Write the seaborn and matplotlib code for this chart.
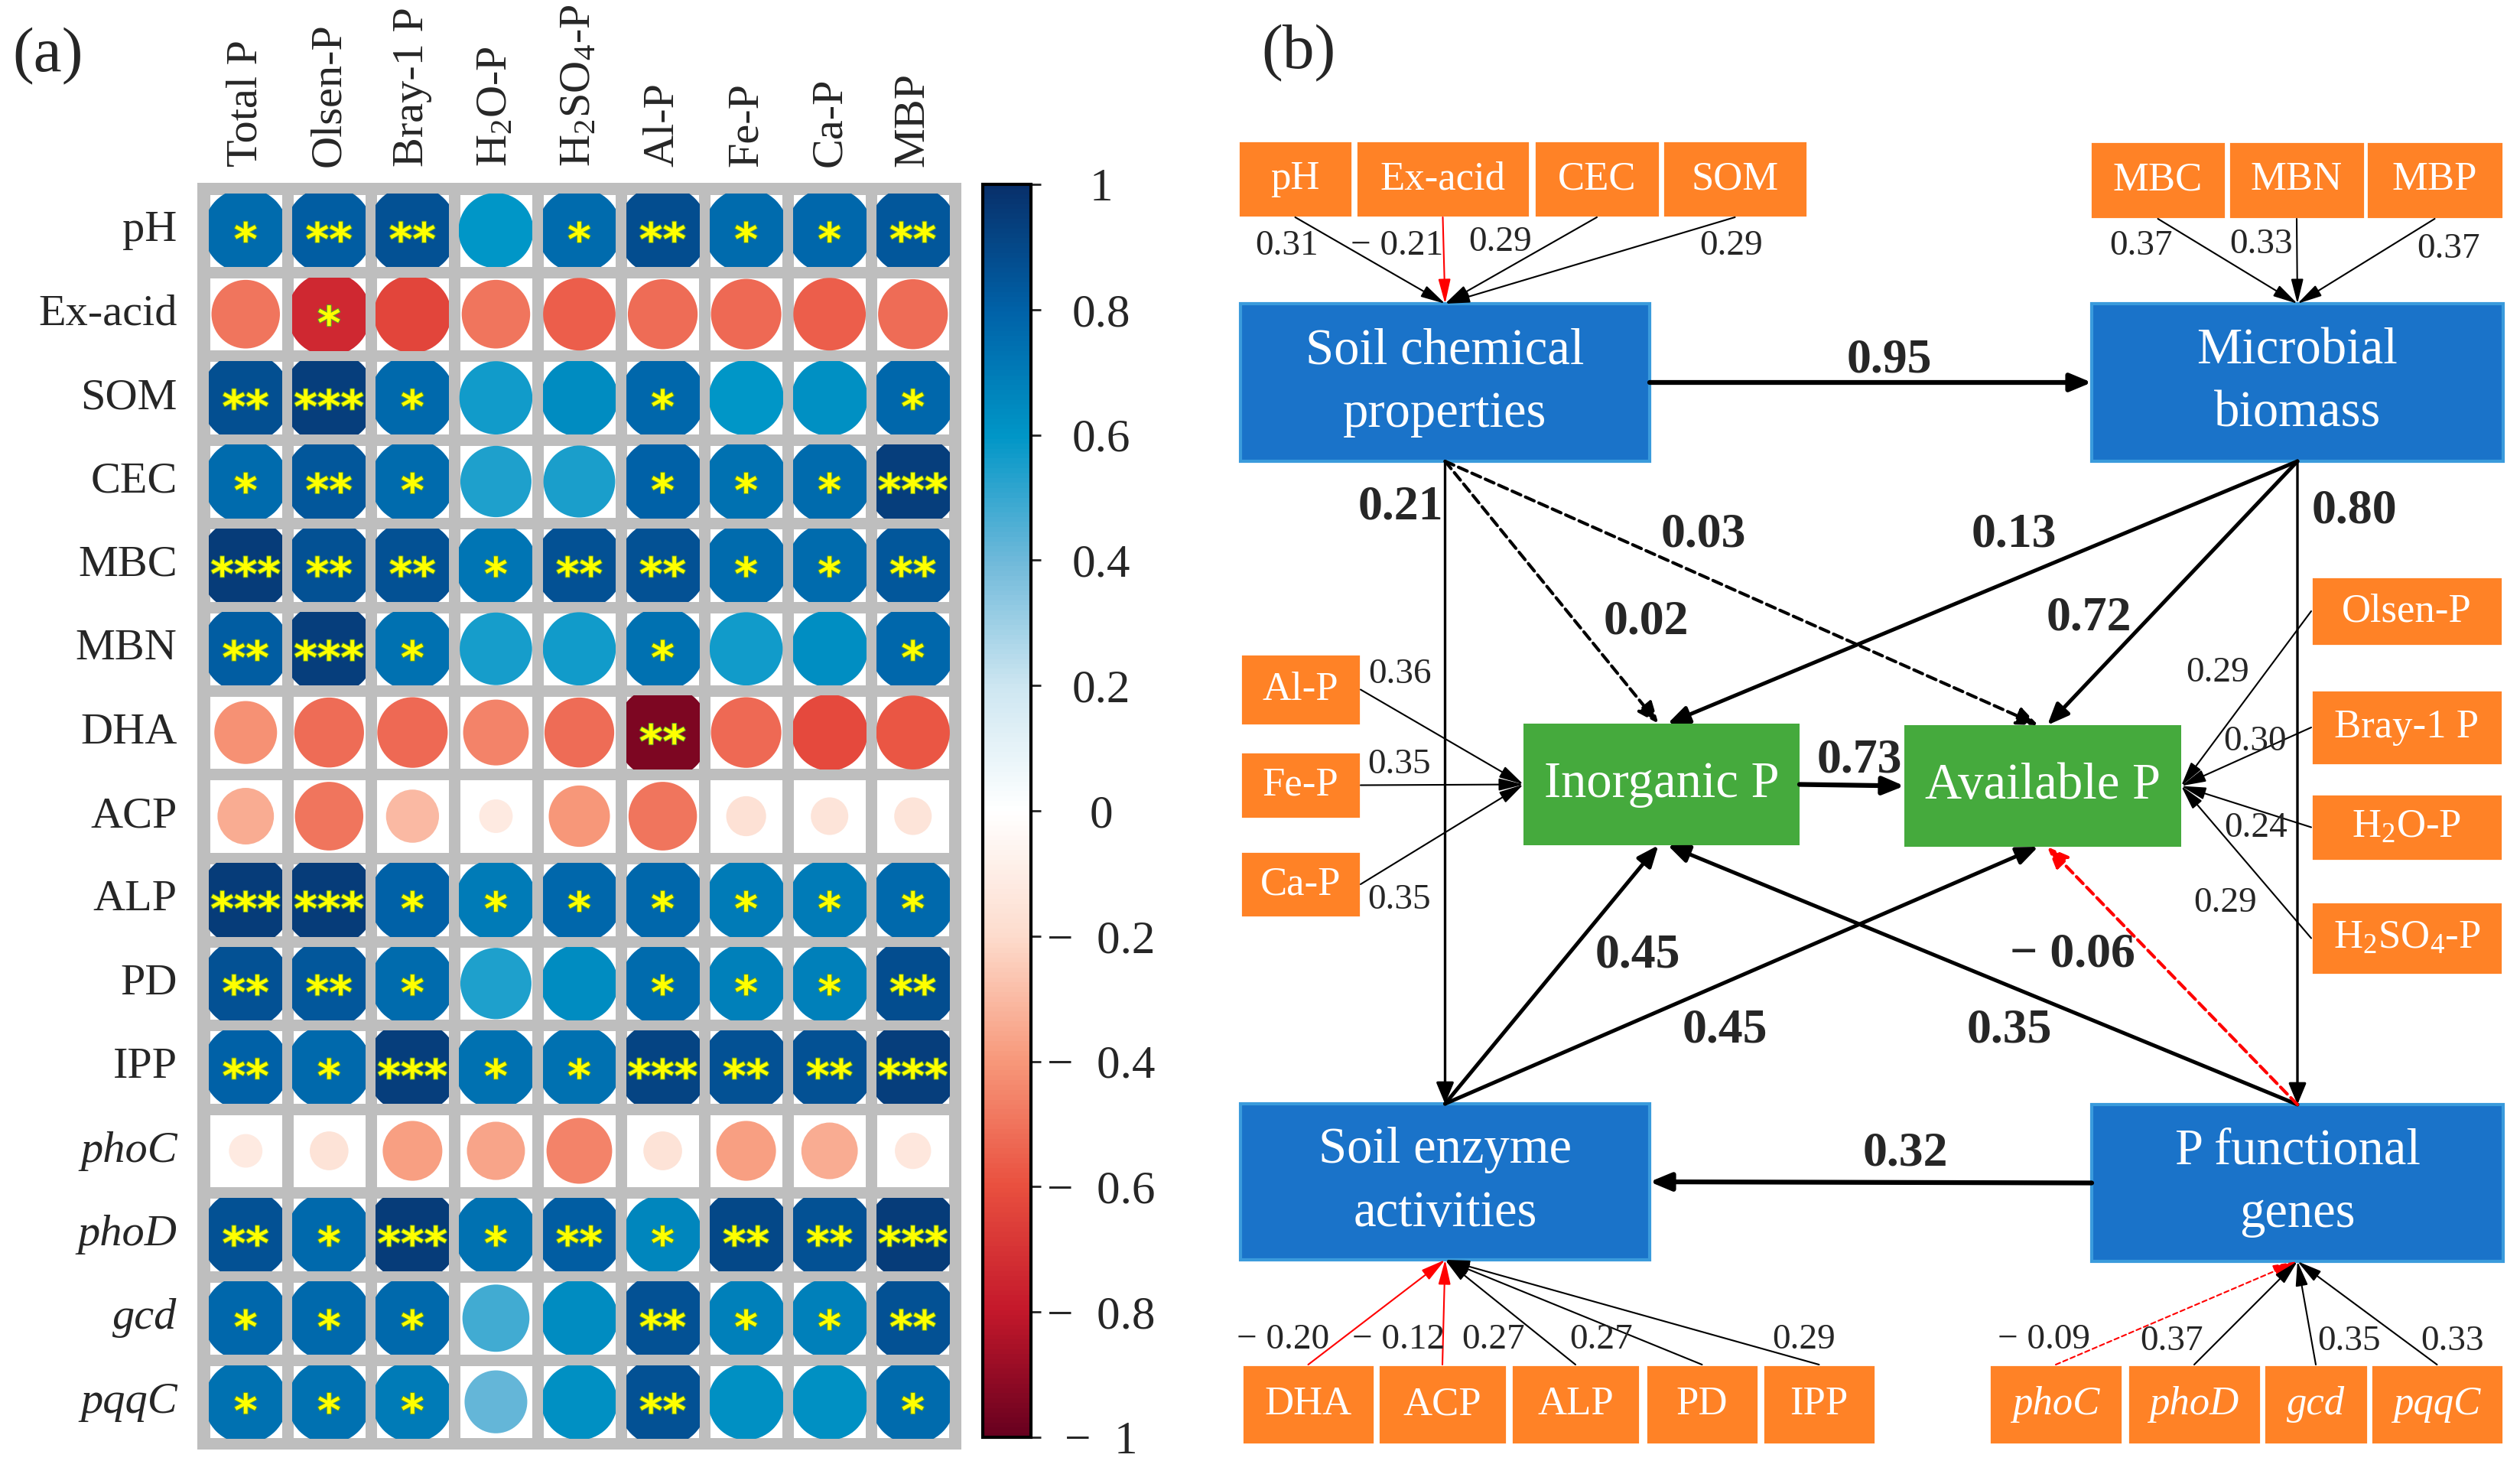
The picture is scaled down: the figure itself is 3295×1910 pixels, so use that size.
import numpy as np
import pandas as pd
import matplotlib
matplotlib.use("Agg")
import matplotlib.pyplot as plt
import seaborn as sns
from matplotlib.colors import LinearSegmentedColormap, ListedColormap, Normalize
from matplotlib.cm import ScalarMappable
from matplotlib.patches import Circle, Rectangle, FancyArrowPatch
import matplotlib.patheffects as pe

# ---- panel (a) data: correlation matrix + significance stars ----
row_names = ['pH', 'Ex-acid', 'SOM', 'CEC', 'MBC', 'MBN', 'DHA', 'ACP', 'ALP', 'PD',
             'IPP', 'phoC', 'phoD', 'gcd', 'pqqC']
col_names = ['Total P', 'Olsen-P', 'Bray-1 P', 'H$_2$O-P', 'H$_2$SO$_4$-P', 'Al-P',
             'Fe-P', 'Ca-P', 'MBP']
italic_rows = ['phoC', 'phoD', 'gcd', 'pqqC']

corr_pH = [0.76, 0.82, 0.86, 0.60, 0.76, 0.88, 0.76, 0.78, 0.84]
corr_exacid = [-0.50, -0.74, -0.64, -0.50, -0.56, -0.52, -0.53, -0.56, -0.52]
corr_SOM = [0.87, 0.94, 0.77, 0.57, 0.64, 0.78, 0.60, 0.62, 0.78]
corr_CEC = [0.76, 0.84, 0.76, 0.54, 0.55, 0.80, 0.74, 0.76, 0.94]
corr_MBC = [0.95, 0.86, 0.86, 0.72, 0.86, 0.86, 0.76, 0.76, 0.84]
corr_MBN = [0.82, 0.94, 0.74, 0.56, 0.57, 0.74, 0.57, 0.63, 0.78]
corr_DHA = [-0.42, -0.52, -0.53, -0.46, -0.52, -0.95, -0.53, -0.62, -0.58]
corr_ACP = [-0.34, -0.50, -0.30, -0.12, -0.40, -0.50, -0.17, -0.15, -0.15]
corr_ALP = [0.95, 0.95, 0.80, 0.70, 0.78, 0.78, 0.70, 0.70, 0.77]
corr_PD = [0.86, 0.84, 0.76, 0.54, 0.64, 0.76, 0.68, 0.68, 0.88]
corr_IPP = [0.80, 0.77, 0.94, 0.74, 0.74, 0.92, 0.86, 0.86, 0.94]
corr_phoC = [-0.12, -0.16, -0.38, -0.36, -0.46, -0.16, -0.38, -0.34, -0.14]
corr_phoD = [0.86, 0.77, 0.95, 0.74, 0.82, 0.66, 0.90, 0.86, 0.95]
corr_gcd = [0.78, 0.77, 0.77, 0.48, 0.64, 0.86, 0.68, 0.68, 0.86]
corr_pqqC = [0.74, 0.74, 0.70, 0.42, 0.62, 0.86, 0.62, 0.62, 0.76]

sig_pH = ['*', '**', '**', '', '*', '**', '*', '*', '**']
sig_exacid = ['', '*', '', '', '', '', '', '', '']
sig_SOM = ['**', '***', '*', '', '', '*', '', '', '*']
sig_CEC = ['*', '**', '*', '', '', '*', '*', '*', '***']
sig_MBC = ['***', '**', '**', '*', '**', '**', '*', '*', '**']
sig_MBN = ['**', '***', '*', '', '', '*', '', '', '*']
sig_DHA = ['', '', '', '', '', '**', '', '', '']
sig_ACP = ['', '', '', '', '', '', '', '', '']
sig_ALP = ['***', '***', '*', '*', '*', '*', '*', '*', '*']
sig_PD = ['**', '**', '*', '', '', '*', '*', '*', '**']
sig_IPP = ['**', '*', '***', '*', '*', '***', '**', '**', '***']
sig_phoC = ['', '', '', '', '', '', '', '', '']
sig_phoD = ['**', '*', '***', '*', '**', '*', '**', '**', '***']
sig_gcd = ['*', '*', '*', '', '', '**', '*', '*', '**']
sig_pqqC = ['*', '*', '*', '', '', '**', '', '', '*']

corr = pd.DataFrame([corr_pH, corr_exacid, corr_SOM, corr_CEC, corr_MBC, corr_MBN, corr_DHA,
                     corr_ACP, corr_ALP, corr_PD, corr_IPP, corr_phoC, corr_phoD, corr_gcd,
                     corr_pqqC], index=row_names, columns=col_names)
sig = [sig_pH, sig_exacid, sig_SOM, sig_CEC, sig_MBC, sig_MBN, sig_DHA, sig_ACP, sig_ALP,
       sig_PD, sig_IPP, sig_phoC, sig_phoD, sig_gcd, sig_pqqC]

# ---- panel (b) data: path model ----
chem_items = ['pH', 'Ex-acid', 'CEC', 'SOM']
chem_loads = [0.31, -0.21, 0.29, 0.29]
mic_items = ['MBC', 'MBN', 'MBP']
mic_loads = [0.37, 0.33, 0.37]
inorg_items = ['Al-P', 'Fe-P', 'Ca-P']
inorg_loads = [0.36, 0.35, 0.35]
avail_items = ['Olsen-P', 'Bray-1 P', 'H$_2$O-P', 'H$_2$SO$_4$-P']
avail_loads = [0.29, 0.30, 0.24, 0.29]
enz_items = ['DHA', 'ACP', 'ALP', 'PD', 'IPP']
enz_loads = [-0.20, -0.12, 0.27, 0.27, 0.29]
gene_items = ['phoC', 'phoD', 'gcd', 'pqqC']
gene_loads = [-0.09, 0.37, 0.35, 0.33]
gene_dashed = [True, False, False, False]

# (source, target, coefficient, significant)
paths = [('chem', 'mic', 0.95, True), ('chem', 'enz', 0.21, True), ('mic', 'gene', 0.80, True),
         ('chem', 'inorg', 0.02, False), ('chem', 'avail', 0.03, False),
         ('mic', 'inorg', 0.13, True), ('mic', 'avail', 0.72, True),
         ('inorg', 'avail', 0.73, True), ('enz', 'inorg', 0.45, True),
         ('enz', 'avail', 0.45, True), ('gene', 'inorg', 0.35, True),
         ('gene', 'avail', -0.06, False), ('gene', 'enz', 0.32, True)]

# ---- style ----
sns.set_style('white')
plt.rcParams['font.family'] = ['Liberation Serif', 'DejaVu Serif']
plt.rcParams['mathtext.fontset'] = 'custom'
plt.rcParams['mathtext.rm'] = 'Liberation Serif'
plt.rcParams['mathtext.it'] = 'Liberation Serif:italic'
plt.rcParams['mathtext.bf'] = 'Liberation Serif:bold'

W, H = 3295, 1910
fig = plt.figure(figsize=(W / 100, H / 100), dpi=100)

cmap = LinearSegmentedColormap.from_list('corr', [
    '#67001F', '#C4182B', '#E9503F', '#F7987A', '#FDDCCD', '#FFFFFF',
    '#CDE6F1', '#6FB9DA', '#0096C7', '#0062A8', '#08306B'])
norm = Normalize(-1, 1)


def fig_rect(x0, y0, x1, y1):
    return [x0 / W, 1 - y1 / H, (x1 - x0) / W, (y1 - y0) / H]


# ================= panel (a) =================
ax = fig.add_axes(fig_rect(258, 239, 1257, 1895))
sns.heatmap(corr, ax=ax, cmap=ListedColormap(['white']), cbar=False,
            linewidths=9.5, linecolor='#BEBEBE', xticklabels=col_names,
            yticklabels=row_names)
ax.set_facecolor('#BEBEBE')
ax.set_xlim(-0.08, 9.08)
ax.set_ylim(15.07, -0.07)
for s in ax.spines.values():
    s.set_visible(False)
ax.xaxis.tick_top()
ax.tick_params(axis='x', length=0, pad=15, labelsize=42, labelrotation=90)
ax.tick_params(axis='y', length=0, pad=19, labelsize=42, labelrotation=0)
for t in ax.get_yticklabels():
    if t.get_text() in italic_rows:
        t.set_fontstyle('italic')

gap = 0.06
for i in range(len(row_names)):
    for j in range(len(col_names)):
        v = corr.iloc[i, j]
        clip = Rectangle((j + gap, i + gap), 1 - 2 * gap, 1 - 2 * gap, transform=ax.transData)
        c = Circle((j + 0.5, i + 0.5), 0.58 * np.sqrt(abs(v)), fc=cmap(norm(v)), ec='none',
                   zorder=3)
        ax.add_patch(c)
        c.set_clip_path(clip)
        if sig[i][j]:
            ax.text(j + 0.5, i + 0.5 + 0.29, sig[i][j], ha='center', va='baseline',
                    fontsize=42, fontweight='bold', family='DejaVu Sans', color='#FFFF00',
                    zorder=4,
                    path_effects=[pe.withStroke(linewidth=1.5, foreground='#5E9E2E')])

cax = fig.add_axes(fig_rect(1285, 241, 1348, 1879))
cb = fig.colorbar(ScalarMappable(norm=norm, cmap=cmap), cax=cax,
                  ticks=np.linspace(-1, 1, 11))
cb.outline.set_linewidth(3)
cb.outline.set_edgecolor('black')
tick_vals = np.linspace(-1, 1, 11)
tick_txt = []
for tv in tick_vals:
    if abs(tv) < 1e-9:
        tick_txt.append('0')
    elif tv < 0:
        tick_txt.append('\u2212  ' + f'{abs(tv):g}')
    else:
        tick_txt.append(f'{tv:g}')
cb.set_ticklabels(tick_txt)
cax.tick_params(length=9, width=2, pad=57, labelsize=44)
for t in cax.get_yticklabels():
    t.set_horizontalalignment('center')

# ================= panel (b) =================
axb = fig.add_axes([0, 0, 1, 1])
axb.set_xlim(0, W)
axb.set_ylim(H, 0)
axb.axis('off')

axb.text(63, 74, '(a)', fontsize=60, ha='center', va='center')
axb.text(1698, 70, '(b)', fontsize=60, ha='center', va='center')

BLUE, BLUE_EDGE, GREEN, ORANGE = '#1A73C9', '#3A9BDC', '#45AA3D', '#FF8226'

latent = {
    'chem': (1622, 397, 2157, 603, 'Soil chemical\nproperties', BLUE),
    'mic': (2735, 397, 3273, 603, 'Microbial\nbiomass', BLUE),
    'enz': (1622, 1443, 2157, 1647, 'Soil enzyme\nactivities', BLUE),
    'gene': (2735, 1444, 3273, 1649, 'P functional\ngenes', BLUE),
    'inorg': (1992, 946, 2353, 1105, 'Inorganic P', GREEN),
    'avail': (2490, 948, 2852, 1107, 'Available P', GREEN),
}
for key, (x0, y0, x1, y1, name, col) in latent.items():
    ec = BLUE_EDGE if col == BLUE else 'none'
    axb.add_patch(Rectangle((x0, y0), x1 - x0, y1 - y0, fc=col, ec=ec, lw=3, zorder=2))
    axb.text((x0 + x1) / 2, (y0 + y1) / 2, name, ha='center', va='center', fontsize=48,
             color='white', linespacing=1.45, zorder=5)


def center(key):
    x0, y0, x1, y1 = latent[key][:4]
    return (x0 + x1) / 2, (y0 + y1) / 2


def fmt(v):
    return ('\u2212 ' + f'{abs(v):.2f}') if v < 0 else f'{v:.2f}'


def arrow(p0, p1, lw, color='black', ls='-', hl=1.2, hw=0.5, ms=14):
    a = FancyArrowPatch(p0, p1, arrowstyle=f'-|>,head_length={hl},head_width={hw}',
                        mutation_scale=ms, lw=lw, color=color, linestyle=ls,
                        shrinkA=0, shrinkB=0, zorder=3)
    axb.add_patch(a)


def obs_box(x0, y0, x1, y1, name, italic=False):
    axb.add_patch(Rectangle((x0, y0), x1 - x0, y1 - y0, fc=ORANGE, ec='white', lw=2, zorder=2))
    axb.text((x0 + x1) / 2, (y0 + y1) / 2, name, ha='center', va='center', fontsize=38,
             color='white', fontstyle='italic' if italic else 'normal', zorder=5)


# observed indicator boxes (layout)
chem_box_x = [(1619, 1768), (1773, 2000), (2006, 2170), (2174, 2363)]
mic_box_x = [(2733, 2910), (2914, 3092), (3094, 3273)]
inorg_box_y = [(855, 948), (983, 1070), (1113, 1199)]
avail_box_y = [(754, 844), (902, 1000), (1038, 1125), (1179, 1274)]
enz_box_x = [(1624, 1797), (1802, 1970), (1976, 2144), (2152, 2299), (2305, 2452)]
gene_box_x = [(2601, 2775), (2782, 2956), (2960, 3096), (3100, 3273)]

chem_lab_xy = [(1683, 322), (1827, 322), (1962, 317), (2264, 322)]
mic_lab_xy = [(2800, 322), (2957, 320), (3202, 326)]
inorg_lab_xy = [(1830, 882), (1830, 1000), (1830, 1177)]
avail_lab_xy = [(2900, 880), (2948, 970), (2950, 1083), (2910, 1181)]
enz_lab_xy = [(1678, 1752), (1829, 1752), (1953, 1752), (2094, 1752), (2359, 1752)]
gene_lab_xy = [(2672, 1752), (2840, 1754), (3072, 1754), (3207, 1754)]

THIN = 1.5
cx, _ = center('chem')
for (x0, x1), name, ld, (lx, ly) in zip(chem_box_x, chem_items, chem_loads, chem_lab_xy):
    obs_box(x0, 184, x1, 284, name)
    arrow(((x0 + x1) / 2, 284), (cx, 397), THIN, color='red' if ld < 0 else 'black',
          hl=1.4, hw=0.35)
    axb.text(lx, ly, fmt(ld), ha='center', va='center', fontsize=34)

mx, _ = center('mic')
for (x0, x1), name, ld, (lx, ly) in zip(mic_box_x, mic_items, mic_loads, mic_lab_xy):
    obs_box(x0, 185, x1, 286, name)
    arrow(((x0 + x1) / 2, 286), (mx, 397), THIN, hl=1.4, hw=0.35)
    axb.text(lx, ly, fmt(ld), ha='center', va='center', fontsize=34)

ix0, iy = latent['inorg'][0], center('inorg')[1]
for (y0, y1), name, ld, (lx, ly) in zip(inorg_box_y, inorg_items, inorg_loads, inorg_lab_xy):
    obs_box(1622, y0, 1779, y1, name)
    arrow((1779, (y0 + y1) / 2), (ix0, iy), THIN, hl=1.4, hw=0.35)
    axb.text(lx, ly, fmt(ld), ha='center', va='center', fontsize=34)

ax1, ay = latent['avail'][2], center('avail')[1]
for (y0, y1), name, ld, (lx, ly) in zip(avail_box_y, avail_items, avail_loads, avail_lab_xy):
    obs_box(3022, y0, 3272, y1, name)
    arrow((3022, (y0 + y1) / 2), (ax1, ay), THIN, hl=1.4, hw=0.35)
    axb.text(lx, ly, fmt(ld), ha='center', va='center', fontsize=34)

ex, _ = center('enz')
for (x0, x1), name, ld, (lx, ly) in zip(enz_box_x, enz_items, enz_loads, enz_lab_xy):
    obs_box(x0, 1784, x1, 1888, name)
    arrow(((x0 + x1) / 2, 1784), (ex, 1647), THIN, color='red' if ld < 0 else 'black',
          hl=1.4, hw=0.35)
    axb.text(lx, ly, fmt(ld), ha='center', va='center', fontsize=34)

gx, _ = center('gene')
for (x0, x1), name, ld, dsh, (lx, ly) in zip(gene_box_x, gene_items, gene_loads, gene_dashed,
                                               gene_lab_xy):
    obs_box(x0, 1784, x1, 1888, name, italic=True)
    arrow(((x0 + x1) / 2, 1784), (gx, 1649), THIN, color='red' if ld < 0 else 'black',
          ls=(0, (3, 2)) if dsh else '-', hl=1.4, hw=0.35)
    axb.text(lx, ly, fmt(ld), ha='center', va='center', fontsize=34)


# structural paths: anchor points on the latent boxes
def anchor(key, side, dx=0):
    x0, y0, x1, y1 = latent[key][:4]
    xc, yc = (x0 + x1) / 2, (y0 + y1) / 2
    return {'top': (xc + dx, y0), 'bottom': (xc + dx, y1),
            'left': (x0, yc), 'right': (x1, yc)}[side]


path_geom = {
    ('chem', 'mic'): (anchor('chem', 'right'), anchor('mic', 'left'), 4.5),
    ('chem', 'enz'): (anchor('chem', 'bottom'), anchor('enz', 'top'), 2.4),
    ('mic', 'gene'): (anchor('mic', 'bottom'), anchor('gene', 'top'), 2.4),
    ('chem', 'inorg'): (anchor('chem', 'bottom'), anchor('inorg', 'top', -4), 3.0),
    ('chem', 'avail'): (anchor('chem', 'bottom'), anchor('avail', 'top', -6), 3.0),
    ('mic', 'inorg'): (anchor('mic', 'bottom'), anchor('inorg', 'top', 8), 3.6),
    ('mic', 'avail'): (anchor('mic', 'bottom'), anchor('avail', 'top', 6), 3.6),
    ('inorg', 'avail'): (anchor('inorg', 'right'), anchor('avail', 'left'), 4.5),
    ('enz', 'inorg'): (anchor('enz', 'top'), anchor('inorg', 'bottom', -4), 3.6),
    ('enz', 'avail'): (anchor('enz', 'top'), anchor('avail', 'bottom', -6), 3.6),
    ('gene', 'inorg'): (anchor('gene', 'top'), anchor('inorg', 'bottom', 8), 3.6),
    ('gene', 'avail'): (anchor('gene', 'top'), anchor('avail', 'bottom', 6), 3.0),
    ('gene', 'enz'): (anchor('gene', 'left'), anchor('enz', 'right'), 4.5),
}
path_lab_xy = [(2470, 471), (1831, 663), (3078, 668), (2152, 813), (2227, 699),
               (2633, 699), (2731, 808), (2431, 994), (2141, 1249), (2255, 1347),
               (2627, 1347), (2710, 1248), (2491, 1508)]

for (src, dst, coef, signif), (lx, ly) in zip(paths, path_lab_xy):
    p0, p1, lw = path_geom[(src, dst)]
    col = 'red' if coef < 0 else 'black'
    ls = '-' if signif else (0, (3, 1.6))
    arrow(p0, p1, lw, color=col, ls=ls)
    axb.text(lx, ly, fmt(coef), ha='center', va='center', fontsize=46, fontweight='bold',
             zorder=6)

fig.savefig('out.png', dpi=100)
